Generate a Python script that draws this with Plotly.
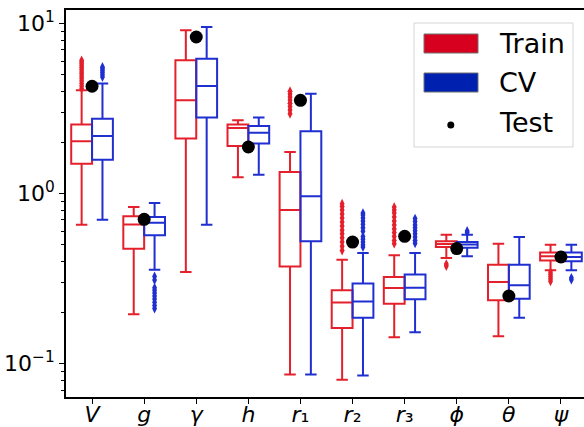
import plotly.graph_objects as go

# Parameters along the x axis
params = ["V", "g", "γ", "h", "r1", "r2", "r3", "φ", "θ", "ψ"]
tick_labels = ["<i>V</i>", "<i>g</i>", "<i>γ</i>", "<i>h</i>",
               "<i>r</i>₁", "<i>r</i>₂", "<i>r</i>₃",
               "<i>ϕ</i>", "<i>θ</i>", "<i>ψ</i>"]

# Training-set box statistics
train_lower = [0.657, 0.195, 0.346, 1.25, 0.0865, 0.0805, 0.143, 0.418, 0.145, 0.354]
train_q1 = [1.50, 0.474, 2.11, 1.905, 0.373, 0.162, 0.225, 0.485, 0.236, 0.405]
train_median = [2.03, 0.659, 3.54, 2.43, 0.80, 0.229, 0.279, 0.506, 0.302, 0.428]
train_q3 = [2.55, 0.735, 6.08, 2.55, 1.34, 0.27, 0.323, 0.524, 0.382, 0.45]
train_upper = [4.05, 0.834, 9.14, 2.70, 1.76, 0.409, 0.434, 0.574, 0.508, 0.501]

# Cross-validation box statistics
cv_lower = [0.703, 0.357, 0.657, 1.29, 0.0865, 0.0853, 0.153, 0.428, 0.186, 0.354]
cv_q1 = [1.585, 0.569, 2.80, 1.97, 0.524, 0.186, 0.239, 0.481, 0.241, 0.40]
cv_median = [2.18, 0.675, 4.30, 2.28, 0.964, 0.232, 0.28, 0.503, 0.289, 0.424]
cv_q3 = [2.76, 0.728, 6.22, 2.50, 2.33, 0.296, 0.335, 0.519, 0.382, 0.45]
cv_upper = [4.44, 0.881, 9.55, 2.80, 3.87, 0.447, 0.447, 0.574, 0.556, 0.501]

# Flier points beyond the whiskers
train_outliers = [
    [4.15, 4.3, 4.45, 4.6, 4.75, 4.9, 5.05, 5.2, 5.35, 5.5, 5.65, 5.8, 5.95, 6.08],
    [],
    [],
    [],
    [2.95, 3.1, 3.25, 3.4, 3.55, 3.7, 3.85, 4.0],
    [0.463, 0.49, 0.52, 0.55, 0.58, 0.61, 0.645, 0.68, 0.72, 0.76, 0.80, 0.84, 0.873],
    [0.508, 0.53, 0.56, 0.59, 0.62, 0.655, 0.69, 0.73, 0.77, 0.80, 0.834],
    [0.375, 0.385],
    [],
    [0.305, 0.315, 0.325, 0.335, 0.345],
]
cv_outliers = [
    [4.85, 5.0, 5.15, 5.3, 5.45, 5.56],
    [0.211, 0.22, 0.23, 0.24, 0.25, 0.26, 0.27, 0.28, 0.31, 0.326],
    [],
    [],
    [],
    [0.485, 0.5, 0.52, 0.54, 0.56, 0.6, 0.63, 0.66, 0.69, 0.72, 0.75, 0.769],
    [0.51, 0.53, 0.555, 0.58, 0.605, 0.63, 0.655, 0.685, 0.713],
    [0.59, 0.603],
    [],
    [0.312, 0.32],
]

# Held-out test values
test_values = [4.28, 0.706, 8.34, 1.88, 3.54, 0.519, 0.561, 0.475, 0.25, 0.424]

RED_LINE = "#e3202b"
BLUE_LINE = "#1f2fd0"
RED_PATCH = "#d7001e"
BLUE_PATCH = "#0021b0"
FONT = "DejaVu Sans"

W, H = 584, 427
ML, MR, MT, MB = 66, 0, 10, 30
OFFSET = 0.2

idx = list(range(len(params)))
fig = go.Figure()


def add_boxes(offset, lower, q1, med, q3, upper, outliers, color):
    xs = [i + offset for i in idx]
    fig.add_trace(go.Box(
        x=xs, q1=q1, median=med, q3=q3, lowerfence=lower, upperfence=upper,
        width=0.4, whiskerwidth=0.55,
        line=dict(color=color, width=2),
        fillcolor="rgba(255,255,255,0)",
        showlegend=False, hoverinfo="skip",
    ))
    ox, oy = [], []
    for i, vals in zip(idx, outliers):
        ox += [i + offset] * len(vals)
        oy += vals
    fig.add_trace(go.Scatter(
        x=ox, y=oy, mode="markers",
        marker=dict(symbol="diamond-tall", size=7, color=color, line=dict(width=0)),
        showlegend=False, hoverinfo="skip",
    ))


add_boxes(-OFFSET, train_lower, train_q1, train_median, train_q3, train_upper,
          train_outliers, RED_LINE)
add_boxes(OFFSET, cv_lower, cv_q1, cv_median, cv_q3, cv_upper,
          cv_outliers, BLUE_LINE)

fig.add_trace(go.Scatter(
    x=idx, y=test_values, mode="markers",
    marker=dict(size=13, color="black"),
    showlegend=False, hoverinfo="skip",
))

# Legend drawn in pixel space, converted to paper coordinates
pw, ph = W - ML - MR, H - MT - MB


def px(x):
    return (x - ML) / pw


def py(y):
    return (H - MB - y) / ph


shapes = [
    dict(type="rect", xref="paper", yref="paper",
         x0=px(414), x1=px(573), y0=py(147), y1=py(23),
         line=dict(color="#d5d5d5", width=1), fillcolor="rgba(255,255,255,0.85)"),
    dict(type="rect", xref="paper", yref="paper",
         x0=px(424), x1=px(478), y0=py(53), y1=py(34),
         line=dict(color="#707070", width=1), fillcolor=RED_PATCH),
    dict(type="rect", xref="paper", yref="paper",
         x0=px(424), x1=px(478), y0=py(92), y1=py(73),
         line=dict(color="#707070", width=1), fillcolor=BLUE_PATCH),
    dict(type="circle", xref="paper", yref="paper",
         x0=px(447.3), x1=px(454.3), y0=py(128.5), y1=py(121.5),
         line=dict(color="black", width=0), fillcolor="black"),
]
annotations = [
    dict(text=t, xref="paper", yref="paper", x=px(497), y=py(yc),
         xanchor="left", yanchor="middle", showarrow=False,
         font=dict(family=FONT, size=27, color="black"))
    for t, yc in [("Train", 43), ("CV", 82), ("Test", 122)]
]

minor_vals = [0.07, 0.08, 0.09] + [k / 10 for k in range(2, 10)] + list(range(2, 10))

fig.update_layout(
    width=W, height=H,
    margin=dict(l=ML, r=MR, t=MT, b=MB, pad=0, autoexpand=False),
    paper_bgcolor="white", plot_bgcolor="white",
    boxmode="overlay",
    shapes=shapes, annotations=annotations,
    font=dict(family=FONT, size=22, color="black"),
    xaxis=dict(
        range=[-0.5, -0.5 + pw / 52.1], tickmode="array", tickvals=idx,
        ticktext=tick_labels, showline=True, linecolor="black", linewidth=1.6,
        mirror=True, ticks="outside", ticklen=5, tickwidth=1.2, tickcolor="black",
        showgrid=False, zeroline=False, tickfont=dict(family=FONT, size=22),
        automargin=False, ticklabelstandoff=-8,
    ),
    yaxis=dict(
        type="log", range=[-1.196, 1.08], tickmode="array",
        tickvals=[0.1, 1, 10],
        ticktext=["10<sup>−1</sup>", "10<sup>0</sup>", "10<sup>1</sup>"],
        showline=True, linecolor="black", linewidth=1.6,
        ticks="outside", ticklen=5, tickwidth=1.2, tickcolor="black",
        showgrid=False, zeroline=False, tickfont=dict(family=FONT, size=22),
        automargin=False,
        minor=dict(tickmode="array", tickvals=minor_vals, ticks="outside",
                   ticklen=3, tickwidth=1, tickcolor="black", showgrid=False),
    ),
)

fig.write_html("out.html")
